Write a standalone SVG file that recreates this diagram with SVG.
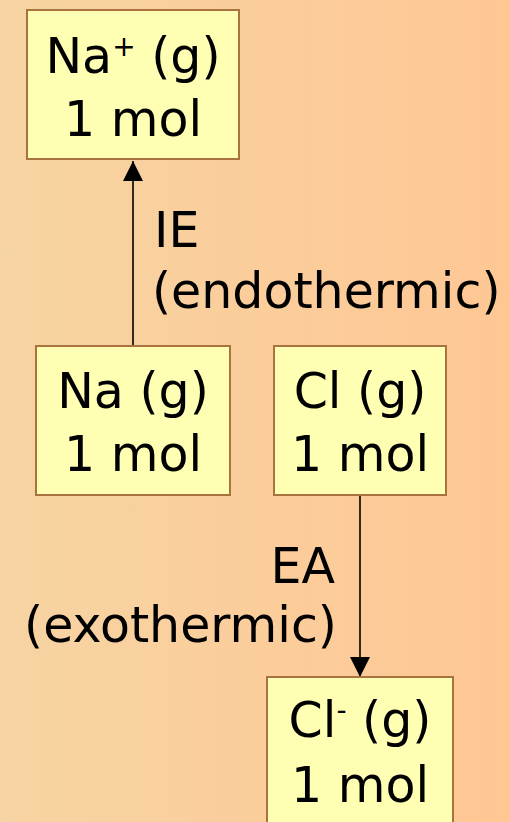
<svg xmlns="http://www.w3.org/2000/svg" width="510" height="822" viewBox="0 0 510 822">
  <defs>
    <linearGradient id="bg" x1="0" y1="0" x2="1" y2="0">
      <stop offset="0" stop-color="#F7D4A3"/>
      <stop offset="1" stop-color="#FEC794"/>
    </linearGradient>
    <marker id="arrow" markerUnits="userSpaceOnUse" markerWidth="20" markerHeight="20" viewBox="0 0 20 20" refX="20" refY="10" orient="auto">
      <path d="M0,0 L20,10 L0,20 Z" fill="#000"/>
    </marker>
    <style>
      .box { fill: #FFFFB4; stroke: #A9733F; stroke-width: 2; }
      .t { font-family: "DejaVu Sans", sans-serif; font-size: 49px; fill: #000; }
      .c { text-anchor: middle; }
      .sup { font-size: 28px; }
      .conn { stroke: #000; stroke-width: 1.6; fill: none; marker-end: url(#arrow); }
    </style>
  </defs>
  <rect x="0" y="0" width="510" height="822" fill="url(#bg)"/>

  <g id="connectors">
    <line class="conn" x1="133" y1="346" x2="133" y2="161"/>
    <line class="conn" x1="360" y1="495" x2="360" y2="677"/>
  </g>

  <g id="label-ie">
    <text class="t" x="154" y="247">IE</text>
    <text class="t" x="152" y="308">(endothermic)</text>
  </g>
  <g id="label-ea">
    <text class="t" x="335" y="583" text-anchor="end">EA</text>
    <text class="t" x="337" y="642" text-anchor="end">(exothermic)</text>
  </g>

  <g id="node-na-plus">
    <rect class="box" x="27" y="10" width="212" height="149"/>
    <text class="t c" x="133" y="73">Na<tspan class="sup" dy="-17">+</tspan><tspan dy="17"> (g)</tspan></text>
    <text class="t c" x="133" y="136">1 mol</text>
  </g>
  <g id="node-na">
    <rect class="box" x="36" y="346" width="194" height="149"/>
    <text class="t c" x="133" y="408">Na (g)</text>
    <text class="t c" x="133" y="471">1 mol</text>
  </g>
  <g id="node-cl">
    <rect class="box" x="274" y="346" width="172" height="149"/>
    <text class="t c" x="360" y="408">Cl (g)</text>
    <text class="t c" x="360" y="471">1 mol</text>
  </g>
  <g id="node-cl-minus">
    <rect class="box" x="267" y="677" width="186" height="160"/>
    <text class="t c" x="360" y="737">Cl<tspan class="sup" dy="-17">-</tspan><tspan dy="17"> (g)</tspan></text>
    <text class="t c" x="360" y="802">1 mol</text>
  </g>
</svg>
